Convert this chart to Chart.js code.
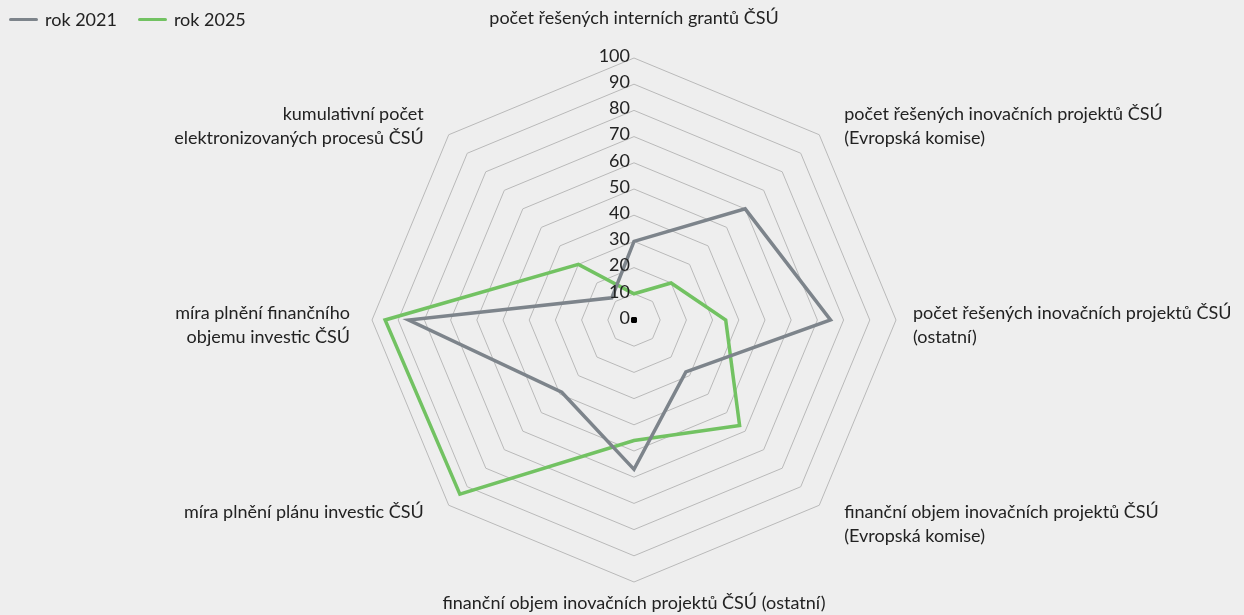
<!DOCTYPE html>
<html>
<head>
<meta charset="utf-8">
<script src="https://cdn.jsdelivr.net/npm/chart.js@4"></script>
<style>
  body { margin: 0; background: #eeeeee; font-family: Lato, sans-serif; }
  #wrap { position: relative; width: 1244px; height: 615px; }
  #legend { position: absolute; left: 9px; top: 8px; display: flex; font-size: 18px; color: #222; }
  #legend span { display: flex; align-items: center; margin-right: 21px; }
  #legend i { display: inline-block; width: 29px; height: 3px; border-radius: 2px; margin-right: 7px; }
</style>
</head>
<body>
<div id="wrap">
  <canvas id="chart" width="1244" height="615"></canvas>
  <div id="legend"></div>
</div>
<script>
const categories = [
  'počet řešených interních grantů ČSÚ',
  ['počet řešených inovačních projektů ČSÚ', '(Evropská komise)'],
  ['počet řešených inovačních projektů ČSÚ', '(ostatní)'],
  ['finanční objem inovačních projektů ČSÚ', '(Evropská komise)'],
  'finanční objem inovačních projektů ČSÚ (ostatní)',
  'míra plnění plánu investic ČSÚ',
  ['míra plnění finančního', 'objemu investic ČSÚ'],
  ['kumulativní počet', 'elektronizovaných procesů ČSÚ']
];
const rok2021 = [30, 60, 75, 28, 57, 39, 86, 12];
const rok2025 = [10, 20, 35, 57, 46, 94, 95, 30];
const tickValues = [0, 10, 20, 30, 40, 50, 60, 70, 80, 90, 100];

const seriesNames = ['rok 2021', 'rok 2025'];
const seriesColors = ['#7d848b', '#72c262'];

// legenda nahoře vlevo
document.getElementById('legend').innerHTML = seriesNames
  .map((n, i) => `<span><i style="background:${seriesColors[i]}"></i>${n}</span>`)
  .join('');

const FONT = '18px Lato';
const LINE_H = 24;

// popisky hodnot vlevo od svislé osy + popisky kategorií (styl jako v Excelu)
const labelPlugin = {
  id: 'excelLabels',
  afterDraw(chart) {
    const s = chart.scales.r;
    const ctx = chart.ctx;
    ctx.save();
    ctx.font = FONT;
    ctx.fillStyle = '#222';
    ctx.textBaseline = 'middle';

    ctx.textAlign = 'right';
    tickValues.forEach(v => {
      const p = s.getPointPositionForValue(0, v);
      ctx.fillText(String(v), p.x - 4, p.y - 2);
    });

    const cx = s.xCenter, cy = s.yCenter;
    chart.data.labels.forEach((lab, i) => {
      const lines = Array.isArray(lab) ? lab : [lab];
      const h = lines.length * LINE_H;
      const p = s.getPointPositionForValue(i, 100);
      const dx = p.x - cx, dy = p.y - cy;
      let x, top;
      if (Math.abs(dx) < 1) {
        ctx.textAlign = 'center';
        x = p.x;
        top = dy < 0 ? p.y - 28 - h : p.y + 9;
      } else {
        const side = dx > 0 ? 1 : -1;
        ctx.textAlign = side > 0 ? 'left' : 'right';
        if (Math.abs(dy) < 1) {
          x = p.x + side * (side > 0 ? 17 : 22);
          top = p.y + 5 - h / 2;
        } else {
          x = p.x + side * 25;
          top = dy < 0 ? p.y - 9 - h / 2 : p.y - 5;
        }
      }
      lines.forEach((t, k) => ctx.fillText(t, x, top + LINE_H * k + LINE_H / 2));
    });
    ctx.restore();
  }
};

new Chart(document.getElementById('chart'), {
  type: 'radar',
  data: {
    labels: categories,
    datasets: [
      {
        label: seriesNames[0],
        data: rok2021,
        borderColor: seriesColors[0],
        borderWidth: 3.5,
        fill: false,
        pointRadius: 0
      },
      {
        label: seriesNames[1],
        data: rok2025,
        borderColor: seriesColors[1],
        borderWidth: 3.5,
        fill: false,
        pointRadius: 0
      },
      {
        label: 'stred',
        data: rok2021.map(() => 0),
        showLine: false,
        pointRadius: 3,
        pointBackgroundColor: '#000',
        pointBorderWidth: 0
      }
    ]
  },
  options: {
    responsive: false,
    animation: false,
    layout: { padding: { top: 58, bottom: 33, left: 24, right: 0 } },
    plugins: {
      legend: { display: false },
      tooltip: { enabled: false }
    },
    scales: {
      r: {
        min: 0,
        max: 100,
        ticks: { stepSize: 10, display: false },
        grid: { color: '#b9b9b9', lineWidth: 1 },
        angleLines: { display: false },
        pointLabels: { display: false }
      }
    }
  },
  plugins: [labelPlugin]
});
</script>
</body>
</html>
